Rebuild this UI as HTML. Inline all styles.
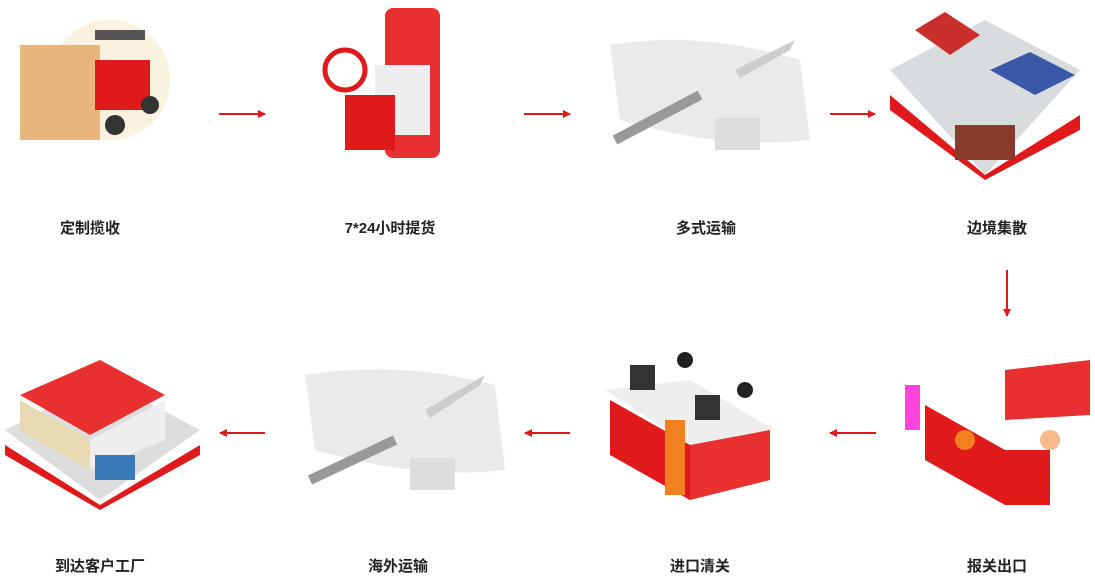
<!DOCTYPE html>
<html><head><meta charset="utf-8"><style>
body{margin:0;width:1095px;height:576px;background:#fff;overflow:hidden;font-family:"Liberation Sans","Noto Sans CJK SC",sans-serif}
svg{position:absolute;left:0;top:0}
text{font-family:"Liberation Sans","Noto Sans CJK SC",sans-serif;font-size:15px;font-weight:bold;fill:#222;text-anchor:middle}
</style></head><body>
<svg width="1095" height="576" viewBox="0 0 1095 576">
<defs><marker id="a" markerWidth="8" markerHeight="8" refX="7" refY="4" orient="auto" markerUnits="userSpaceOnUse"><path d="M0,0L8,4L0,8z" fill="#e01a1a"/></marker></defs>
<g stroke="#e01a1a" stroke-width="2" marker-end="url(#a)">
<line x1="219" y1="114" x2="265" y2="114"/><line x1="524" y1="114" x2="570" y2="114"/><line x1="830" y1="114" x2="875" y2="114"/>
<line x1="1007" y1="270" x2="1007" y2="316"/>
<line x1="265" y1="433" x2="220" y2="433"/><line x1="570" y1="433" x2="525" y2="433"/><line x1="876" y1="433" x2="830" y2="433"/>
</g>
<!-- 1 forklift -->
<circle cx="110" cy="80" r="60" fill="#fbf1df"/>
<rect x="20" y="45" width="80" height="95" fill="#e8b57e"/><rect x="95" y="60" width="55" height="50" fill="#e01a1a"/><rect x="95" y="30" width="50" height="10" fill="#555"/><circle cx="150" cy="105" r="9" fill="#333"/><circle cx="115" cy="125" r="10" fill="#333"/>
<!-- 2 truck phone -->
<rect x="385" y="8" width="55" height="150" rx="8" fill="#e83030"/><rect x="375" y="65" width="55" height="70" fill="#eee"/><rect x="345" y="95" width="50" height="55" fill="#e01a1a"/><circle cx="345" cy="70" r="20" fill="none" stroke="#e01a1a" stroke-width="5"/>
<!-- 3 map -->
<path d="M610,45 Q700,30 800,60 L810,140 Q720,150 620,120 Z" fill="#e8ebe8"/><line x1="615" y1="140" x2="700" y2="95" stroke="#999" stroke-width="10"/><rect x="715" y="118" width="45" height="32" fill="#ddd"/><path d="M735,70 L795,40 L790,50 L740,78z" fill="#ccc"/>
<!-- 4 warehouse -->
<path d="M890,70 L985,20 L1080,70 L985,175 Z" fill="#d9dcdf"/><path d="M890,95 L985,175 L1080,115 L1080,130 L985,180 L890,110Z" fill="#e01a1a"/><path d="M915,30 L945,12 L980,35 L950,55z" fill="#c9302c"/><path d="M990,70 L1030,52 L1075,75 L1035,95z" fill="#3a57a8"/><rect x="955" y="125" width="60" height="35" fill="#8a3a2a"/>
<!-- 5 customs -->
<path d="M925,405 L1005,450 L1005,505 L925,460Z" fill="#e01a1a"/><path d="M1005,370 L1090,360 L1090,415 L1005,420Z" fill="#e83030"/><rect x="1005" y="450" width="45" height="55" fill="#e01a1a"/><rect x="905" y="385" width="15" height="45" fill="#f4d"/><circle cx="965" cy="440" r="10" fill="#f08020"/><circle cx="1050" cy="440" r="10" fill="#f6b98a"/>
<!-- 6 import -->
<path d="M605,390 L690,380 L775,430 L690,445 Z" fill="#eee"/><path d="M610,400 L690,445 L690,500 L610,455Z" fill="#e01a1a"/><path d="M690,445 L770,430 L770,480 L690,500Z" fill="#e83030"/><rect x="630" y="365" width="25" height="25" fill="#333"/><rect x="695" y="395" width="25" height="25" fill="#333"/><rect x="665" y="420" width="20" height="75" fill="#f08020"/><circle cx="685" cy="360" r="8" fill="#222"/><circle cx="745" cy="390" r="8" fill="#222"/>
<!-- 7 overseas map -->
<path d="M305,375 Q400,360 495,385 L505,470 Q420,480 315,450 Z" fill="#e8ebe8"/><line x1="310" y1="480" x2="395" y2="440" stroke="#999" stroke-width="10"/><rect x="410" y="458" width="45" height="32" fill="#ddd"/><path d="M425,410 L485,375 L480,385 L430,418z" fill="#ccc"/>
<!-- 8 factory -->
<path d="M5,430 L105,380 L200,430 L100,500 Z" fill="#ddd"/><path d="M20,395 L100,360 L165,395 L90,435Z" fill="#e83030"/><path d="M20,400 L90,440 L90,470 L20,430Z" fill="#e8d9b0"/><path d="M90,440 L165,400 L165,440 L90,470Z" fill="#eee"/><path d="M5,445 L100,505 L200,445 L200,455 L100,510 L5,455Z" fill="#e01a1a"/><rect x="95" y="455" width="40" height="25" fill="#3a7ab8"/>
<text x="90" y="233">定制揽收</text><text x="390" y="233">7*24小时提货</text><text x="706" y="233">多式运输</text><text x="997" y="233">边境集散</text>
<text x="100" y="571">到达客户工厂</text><text x="398" y="571">海外运输</text><text x="700" y="571">进口清关</text><text x="997" y="571">报关出口</text>
</svg></body></html>
